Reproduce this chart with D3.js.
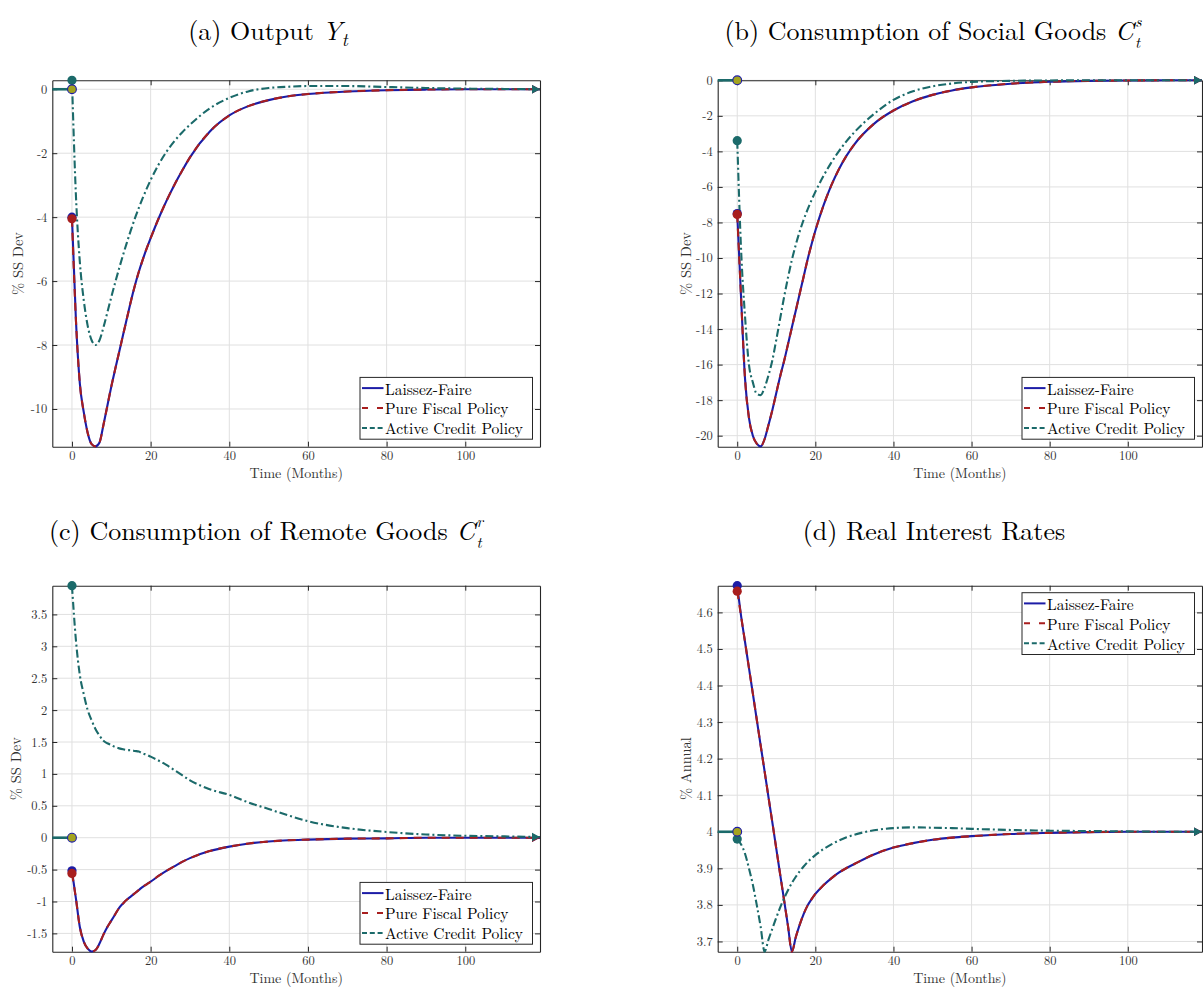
<!DOCTYPE html>
<html>
<head>
<meta charset="utf-8">
<script src="https://cdn.jsdelivr.net/npm/d3@7"></script>
<style>
  body { margin: 0; background: #fff; }
  svg text { font-family: "Latin Modern Roman", "CMU Serif", "Liberation Serif", "Times New Roman", serif; }
</style>
</head>
<body>
<svg id="fig" width="1203" height="987"></svg>
<script>
// Months after the shock at which each response is recorded
const months = [0,1,2,3,4,5,6,7,8,9,10,11,12,13,14,15,16,17,18,19,20,
                22,24,26,28,30,35,40,45,50,55,60,70,80,90,100,110,119];

// (a) Output Y_t, % deviation from steady state
const outputLF  = [-4.00,-7.20,-9.20,-10.10,-10.75,-11.10,-11.17,-11.05,-10.50,-9.90,-9.30,-8.75,-8.22,-7.68,-7.15,-6.62,-6.14,-5.71,-5.33,-4.98,-4.66,
                   -4.05,-3.50,-3.00,-2.55,-2.13,-1.33,-0.82,-0.52,-0.34,-0.22,-0.15,-0.07,-0.03,-0.01,0.00,0.00,0.00];
const outputPFP = [-4.05,-7.20,-9.20,-10.10,-10.75,-11.10,-11.17,-11.05,-10.50,-9.90,-9.30,-8.75,-8.22,-7.68,-7.15,-6.62,-6.14,-5.71,-5.33,-4.98,-4.66,
                   -4.05,-3.50,-3.00,-2.55,-2.13,-1.33,-0.82,-0.52,-0.34,-0.22,-0.15,-0.07,-0.03,-0.01,0.00,0.00,0.00];
const outputACP = [0.28,-3.30,-5.40,-6.60,-7.40,-7.85,-8.00,-7.85,-7.45,-6.98,-6.50,-6.04,-5.60,-5.18,-4.78,-4.40,-4.04,-3.71,-3.40,-3.11,-2.84,
                   -2.36,-1.96,-1.63,-1.35,-1.11,-0.60,-0.27,-0.06,0.04,0.08,0.10,0.10,0.07,0.04,0.02,0.01,0.00];

// (b) Consumption of social goods C^s_t
const socialLF  = [-7.50,-12.30,-16.80,-19.00,-20.00,-20.45,-20.60,-20.20,-19.40,-18.55,-17.60,-16.65,-15.80,-14.85,-13.90,-12.95,-12.00,-11.05,-10.10,-9.25,-8.47,
                   -7.10,-5.96,-5.02,-4.24,-3.60,-2.45,-1.70,-1.18,-0.82,-0.57,-0.40,-0.19,-0.08,-0.03,-0.01,0.00,0.00];
const socialPFP = [-7.55,-12.30,-16.80,-19.00,-20.00,-20.45,-20.60,-20.20,-19.40,-18.55,-17.60,-16.65,-15.80,-14.85,-13.90,-12.95,-12.00,-11.05,-10.10,-9.25,-8.47,
                   -7.10,-5.96,-5.02,-4.24,-3.60,-2.45,-1.70,-1.18,-0.82,-0.57,-0.40,-0.19,-0.08,-0.03,-0.01,0.00,0.00];
const socialACP = [-3.40,-9.60,-13.30,-16.00,-17.00,-17.65,-17.72,-17.30,-16.60,-15.75,-14.60,-13.40,-12.20,-11.10,-10.10,-9.25,-8.50,-7.85,-7.28,-6.76,-6.28,
                   -5.42,-4.66,-4.00,-3.42,-2.92,-1.90,-1.10,-0.62,-0.34,-0.18,-0.09,-0.03,-0.01,0.00,0.00,0.00,0.00];

// (c) Consumption of remote goods C^r_t
const remoteLF  = [-0.52,-0.95,-1.40,-1.63,-1.74,-1.785,-1.76,-1.66,-1.52,-1.40,-1.30,-1.20,-1.10,-1.03,-0.97,-0.92,-0.87,-0.82,-0.77,-0.73,-0.69,
                   -0.60,-0.52,-0.45,-0.38,-0.32,-0.21,-0.14,-0.09,-0.06,-0.04,-0.03,-0.015,-0.01,0.00,0.00,0.00,0.00];
const remotePFP = [-0.56,-0.95,-1.40,-1.63,-1.74,-1.785,-1.76,-1.66,-1.52,-1.40,-1.30,-1.20,-1.10,-1.03,-0.97,-0.92,-0.87,-0.82,-0.77,-0.73,-0.69,
                   -0.60,-0.52,-0.45,-0.38,-0.32,-0.21,-0.14,-0.09,-0.06,-0.04,-0.03,-0.015,-0.01,0.00,0.00,0.00,0.00];
const remoteACP = [3.95,3.10,2.55,2.25,2.00,1.84,1.70,1.60,1.52,1.48,1.45,1.42,1.40,1.385,1.375,1.37,1.36,1.35,1.32,1.30,1.27,
                   1.21,1.14,1.06,0.98,0.90,0.76,0.67,0.55,0.45,0.35,0.26,0.15,0.09,0.05,0.03,0.02,0.01];

// (d) Real interest rates, % annual
const rateLF  = [4.673,4.589,4.519,4.448,4.378,4.307,4.236,4.166,4.095,4.025,3.954,3.883,3.813,3.742,3.672,3.712,3.746,3.775,3.798,3.815,3.830,
                 3.853,3.872,3.888,3.901,3.912,3.938,3.957,3.969,3.978,3.984,3.988,3.994,3.997,3.999,4.000,4.000,4.000];
const ratePFP = [4.658,4.589,4.519,4.448,4.378,4.307,4.236,4.166,4.095,4.025,3.954,3.883,3.813,3.742,3.672,3.712,3.746,3.775,3.798,3.815,3.830,
                 3.853,3.872,3.888,3.901,3.912,3.938,3.957,3.969,3.978,3.984,3.988,3.994,3.997,3.999,4.000,4.000,4.000];
const rateACP = [3.980,3.965,3.940,3.900,3.855,3.800,3.740,3.672,3.705,3.735,3.765,3.793,3.818,3.840,3.860,3.877,3.892,3.905,3.917,3.927,3.936,
                 3.952,3.965,3.976,3.985,3.992,4.004,4.010,4.012,4.011,4.010,4.008,4.005,4.003,4.002,4.001,4.000,4.000];

// Axis ticks
const monthTicks  = [0,20,40,60,80,100];
const outputTicks = [-10,-8,-6,-4,-2,0];
const socialTicks = [-20,-18,-16,-14,-12,-10,-8,-6,-4,-2,0];
const remoteTicks = [-1.5,-1,-0.5,0,0.5,1,1.5,2,2.5,3,3.5];
const rateTicks   = [3.7,3.8,3.9,4,4.1,4.2,4.3,4.4,4.5,4.6];

// Steady-state levels (pre-shock value of each variable)
const ssOutput = 0, ssSocial = 0, ssRemote = 0, ssRate = 4;

const seriesNames = ["Laissez-Faire", "Pure Fiscal Policy", "Active Credit Policy"];

const BLUE = "#1c1ca6", RED = "#a81e1e", TEAL = "#1b6a6a", OLIVE = "#a3a31f";
const AXIS = "#262626", GRID = "#e0e0e0";

const svg = d3.select("#fig");

const panels = [
  { title: [["(a) Output ", {}], ["Y", {italic: true}], ["t", {italic: true, sub: true}]],
    titleX: 268, titleY: 40,
    box: {x0: 52.3, x1: 540, y0: 80.3, y1: 446.7},
    yDomain: [-11.18, 0.28], yTicks: outputTicks, ylabel: "% SS Dev", ylabelX: 17,
    ss: ssOutput, data: [outputLF, outputPFP, outputACP], legend: "bottom" },
  { title: [["(b) Consumption of Social Goods ", {}], ["C", {italic: true}], ["s", {italic: true, sup: true}], ["t", {italic: true, subAfterSup: true}]],
    titleX: 933, titleY: 40,
    box: {x0: 717.7, x1: 1202, y0: 80.3, y1: 446.7},
    yDomain: [-20.62, 0], yTicks: socialTicks, ylabel: "% SS Dev", ylabelX: 685,
    ss: ssSocial, data: [socialLF, socialPFP, socialACP], legend: "bottom" },
  { title: [["(c) Consumption of Remote Goods ", {}], ["C", {italic: true}], ["r", {italic: true, sup: true}], ["t", {italic: true, subAfterSup: true}]],
    titleX: 266, titleY: 540,
    box: {x0: 52.3, x1: 540, y0: 585.7, y1: 951.7},
    yDomain: [-1.787, 3.95], yTicks: remoteTicks, ylabel: "% SS Dev", ylabelX: 15,
    ss: ssRemote, data: [remoteLF, remotePFP, remoteACP], legend: "bottom" },
  { title: [["(d) Real Interest Rates", {}]],
    titleX: 934, titleY: 540,
    box: {x0: 717.7, x1: 1202, y0: 585.7, y1: 951.7},
    yDomain: [3.672, 4.673], yTicks: rateTicks, ylabel: "% Annual", ylabelX: 685,
    ss: ssRate, data: [rateLF, ratePFP, rateACP], legend: "top" }
];

const styles = [
  { color: BLUE, dash: null, legendDash: null },
  { color: RED,  dash: "8,6", legendDash: "6,9" },
  { color: TEAL, dash: "8,3,2,3", legendDash: "5,2.8" }
];

function drawTitle(p) {
  const t = svg.append("text")
    .attr("x", p.titleX).attr("y", p.titleY)
    .attr("text-anchor", "middle")
    .attr("font-size", 26).attr("fill", "#000");
  p.title.forEach(([txt, o]) => {
    const s = t.append("tspan").text(txt);
    if (o.italic) s.attr("font-style", "italic");
    if (o.sub) s.attr("font-size", 18).attr("dy", 6);
    if (o.sup) s.attr("font-size", 15.5).attr("dy", -13).attr("dx", 1.5);
    if (o.subAfterSup) s.attr("font-size", 15.5).attr("dy", 21).attr("dx", -6.5);
  });
}

function drawPanel(p) {
  const b = p.box;
  const x = d3.scaleLinear().domain([-5, 119]).range([b.x0, b.x1]);
  const y = d3.scaleLinear().domain(p.yDomain).range([b.y1, b.y0]);
  const g = svg.append("g");

  // grid
  g.selectAll(".gx").data(monthTicks).join("line")
    .attr("x1", d => x(d)).attr("x2", d => x(d))
    .attr("y1", b.y0).attr("y2", b.y1)
    .attr("stroke", GRID).attr("stroke-width", 1);
  g.selectAll(".gy").data(p.yTicks).join("line")
    .attr("x1", b.x0).attr("x2", b.x1)
    .attr("y1", d => y(d)).attr("y2", d => y(d))
    .attr("stroke", GRID).attr("stroke-width", 1);

  // axes with inward ticks on all four sides
  const tick = 5;
  const axB = d3.axisBottom(x).tickValues(monthTicks).tickSizeInner(-tick).tickSizeOuter(0).tickPadding(4.5);
  const axT = d3.axisTop(x).tickValues(monthTicks).tickSizeInner(-tick).tickSizeOuter(0).tickFormat("");
  const axL = d3.axisLeft(y).tickValues(p.yTicks).tickSizeInner(-tick).tickSizeOuter(0).tickPadding(5).tickFormat(d => String(d));
  const axR = d3.axisRight(y).tickValues(p.yTicks).tickSizeInner(-tick).tickSizeOuter(0).tickFormat("");
  [[axB, `translate(0,${b.y1})`], [axT, `translate(0,${b.y0})`],
   [axL, `translate(${b.x0},0)`], [axR, `translate(${b.x1},0)`]].forEach(([ax, tr]) => {
    const a = g.append("g").attr("transform", tr).call(ax);
    a.select(".domain").attr("stroke", AXIS).attr("stroke-width", 1.1);
    a.selectAll(".tick line").attr("stroke", AXIS);
    a.selectAll(".tick text").attr("fill", "#333").attr("font-size", 12.5)
      .attr("font-family", '"Liberation Serif", "Times New Roman", serif');
  });

  // axis labels
  g.append("text").attr("x", (b.x0 + b.x1) / 2).attr("y", b.y1 + 31)
    .attr("text-anchor", "middle").attr("font-size", 14).attr("fill", "#333")
    .text("Time (Months)");
  g.append("text")
    .attr("transform", `translate(${p.ylabelX},${(b.y0 + b.y1) / 2}) rotate(-90)`)
    .attr("text-anchor", "middle").attr("dominant-baseline", "central")
    .attr("font-size", 14.5).attr("fill", "#333")
    .text(p.ylabel);

  // pre-shock steady state
  g.append("path")
    .attr("d", d3.line()([[x(-5), y(p.ss)], [x(0), y(p.ss)]]))
    .attr("stroke", TEAL).attr("stroke-width", 2.6).attr("fill", "none");

  // impulse responses
  const line = d3.line().x(d => x(d[0])).y(d => y(d[1])).curve(d3.curveMonotoneX);
  p.data.forEach((vals, i) => {
    const pts = months.map((m, k) => [m, vals[k]]);
    g.append("path").attr("d", line(pts))
      .attr("fill", "none").attr("stroke", styles[i].color)
      .attr("stroke-width", 2.1)
      .attr("stroke-dasharray", styles[i].dash);
  });

  // end-of-horizon arrows
  p.data.forEach((vals, i) => {
    const tx = x(months[months.length - 1]), ty = y(vals[vals.length - 1]);
    g.append("path")
      .attr("d", `M${tx},${ty} L${tx - 8},${ty - 4.2} L${tx - 8},${ty + 4.2} Z`)
      .attr("fill", styles[i].color);
  });

  // impact markers
  p.data.forEach((vals, i) => {
    g.append("circle").attr("cx", x(0)).attr("cy", y(vals[0])).attr("r", 4.6)
      .attr("fill", styles[i].color);
  });
  g.append("circle").attr("cx", x(0)).attr("cy", y(p.ss)).attr("r", 4.4)
    .attr("fill", OLIVE).attr("stroke", BLUE).attr("stroke-width", 1.1);

  // legend
  const lw = 172.5, lh = 61.8, inset = 7.5;
  const lx = b.x1 - inset - lw;
  const ly = p.legend === "bottom" ? b.y1 - inset - lh : b.y0 + 7;
  const lg = g.append("g").attr("transform", `translate(${lx},${ly})`);
  lg.append("rect").attr("width", lw).attr("height", lh)
    .attr("fill", "#fff").attr("stroke", AXIS).attr("stroke-width", 1);
  seriesNames.forEach((name, i) => {
    const ry = 10.7 + i * 19.9;
    lg.append("line").attr("x1", 2).attr("x2", 23.5).attr("y1", ry).attr("y2", ry)
      .attr("stroke", styles[i].color).attr("stroke-width", 2)
      .attr("stroke-dasharray", styles[i].legendDash);
    lg.append("text").attr("x", 25).attr("y", ry).attr("dominant-baseline", "central")
      .attr("font-size", 15.5).attr("fill", "#000").text(name);
  });

  drawTitle(p);
}

panels.forEach(drawPanel);
</script>
</body>
</html>
